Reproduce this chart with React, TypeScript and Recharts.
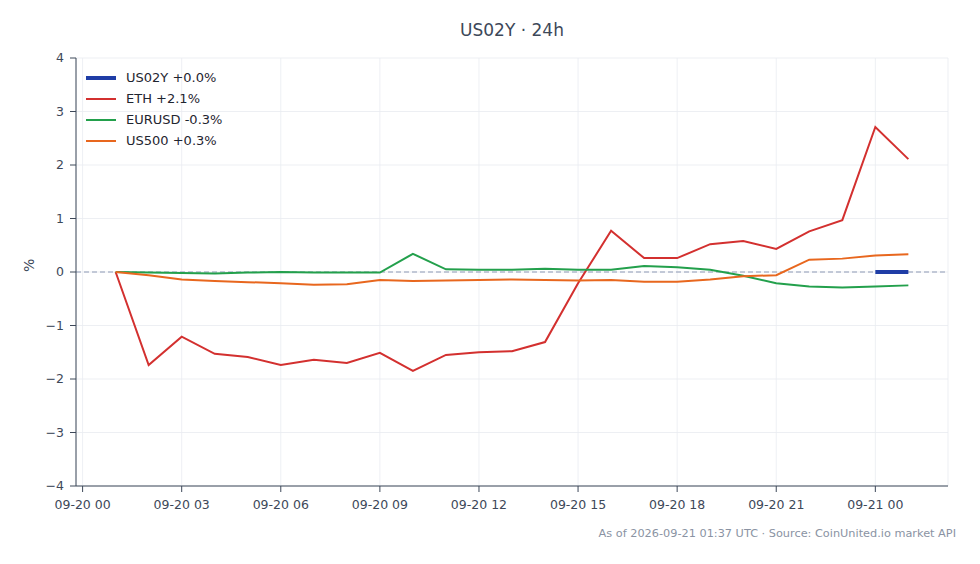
import React from "react"
import { LineChart, Line, XAxis, YAxis, CartesianGrid, ReferenceLine } from "recharts"

// hours since 09-20 00:00 UTC
const hours = [1, 2, 3, 4, 5, 6, 7, 8, 9, 10, 11, 12, 13, 14, 15, 16, 17, 18, 19, 20, 21, 22, 23, 24, 25]

const eth = [0, -1.74, -1.21, -1.53, -1.59, -1.74, -1.64, -1.7, -1.51, -1.85, -1.55, -1.5, -1.48, -1.31, -0.21, 0.77, 0.26, 0.26, 0.52, 0.58, 0.43, 0.76, 0.97, 2.71, 2.11]
const eurusd = [0, -0.01, -0.02, -0.03, -0.01, 0, -0.01, -0.01, -0.01, 0.34, 0.05, 0.04, 0.04, 0.06, 0.04, 0.04, 0.11, 0.09, 0.04, -0.07, -0.21, -0.27, -0.29, -0.27, -0.25]
const us500 = [0, -0.06, -0.14, -0.17, -0.19, -0.21, -0.24, -0.23, -0.15, -0.17, -0.16, -0.15, -0.14, -0.15, -0.16, -0.15, -0.18, -0.18, -0.14, -0.08, -0.06, 0.23, 0.25, 0.31, 0.33]
// US02Y only has the last two points
const us02y: (number | null)[] = [null, null, null, null, null, null, null, null, null, null, null, null, null, null, null, null, null, null, null, null, null, null, null, 0, 0]

const xTicks = [0, 3, 6, 9, 12, 15, 18, 21, 24]
const xTickLabels = ["09-20 00", "09-20 03", "09-20 06", "09-20 09", "09-20 12", "09-20 15", "09-20 18", "09-20 21", "09-21 00"]
const yTicks = [-4, -3, -2, -1, 0, 1, 2, 3, 4]

const series = [
  { key: "us02y", label: "US02Y +0.0%", color: "#1f3da6", width: 4 },
  { key: "eth", label: "ETH +2.1%", color: "#d3302f", width: 2 },
  { key: "eurusd", label: "EURUSD -0.3%", color: "#23a04c", width: 2 },
  { key: "us500", label: "US500 +0.3%", color: "#e8671e", width: 2 },
]

const data = hours.map((h, i) => ({ h, eth: eth[i], eurusd: eurusd[i], us500: us500[i], us02y: us02y[i] }))

const font = "'DejaVu Sans', sans-serif"
const ink = "#3d4859"

function fmtY(v: number) {
  return v < 0 ? "\u2212" + Math.abs(v) : String(v)
}

export default function App() {
  return (
    <div style={{ position: "absolute", left: 0, top: 0, width: 980, height: 564, background: "#fff", fontFamily: font }}>
      <div style={{ position: "absolute", left: 0, width: 1024, top: 20, textAlign: "center", fontSize: 17, color: ink }}>
        US02Y · 24h
      </div>
      <LineChart width={980} height={564} data={data} margin={{ top: 58, right: 32, bottom: 48, left: 20 }}>
        <CartesianGrid stroke="#e8ebf0" strokeWidth={0.8} />
        <XAxis
          type="number"
          dataKey="h"
          domain={[-0.2, 26.2]}
          ticks={xTicks}
          tickFormatter={(v) => xTickLabels[xTicks.indexOf(v)]}
          tick={{ fill: ink, fontSize: 12.5, fontFamily: font }}
          tickSize={6}
          tickMargin={8}
          stroke={ink}
          height={30}
          allowDataOverflow
        />
        <YAxis
          type="number"
          domain={[-4, 4]}
          ticks={yTicks}
          tickFormatter={fmtY}
          tick={{ fill: ink, fontSize: 12.5, fontFamily: font }}
          tickSize={6}
          tickMargin={6}
          stroke={ink}
          width={56}
          label={{ value: "%", angle: -90, position: "insideLeft", offset: 9, fill: ink, fontSize: 14, fontFamily: font }}
        />
        <ReferenceLine y={0} stroke="#8e9ab5" strokeDasharray="5 3" strokeWidth={1} />
        {series.map((s) => (
          <Line
            key={s.key}
            type="linear"
            dataKey={s.key}
            stroke={s.color}
            strokeWidth={s.width}
            dot={false}
            activeDot={false}
            isAnimationActive={false}
          />
        ))}
      </LineChart>
      <div style={{ position: "absolute", left: 86, top: 67 }}>
        {series.map((s) => (
          <div key={s.key} style={{ display: "flex", alignItems: "center", height: 21 }}>
            <div style={{ width: 30, height: s.width, background: s.color, marginRight: 10 }} />
            <span style={{ fontSize: 13, color: "#1f2530" }}>{s.label}</span>
          </div>
        ))}
      </div>
      <div style={{ position: "absolute", right: 24, top: 527, fontSize: 11.3, color: "#8a93a3" }}>
        As of 2026-09-21 01:37 UTC · Source: CoinUnited.io market API
      </div>
    </div>
  )
}
